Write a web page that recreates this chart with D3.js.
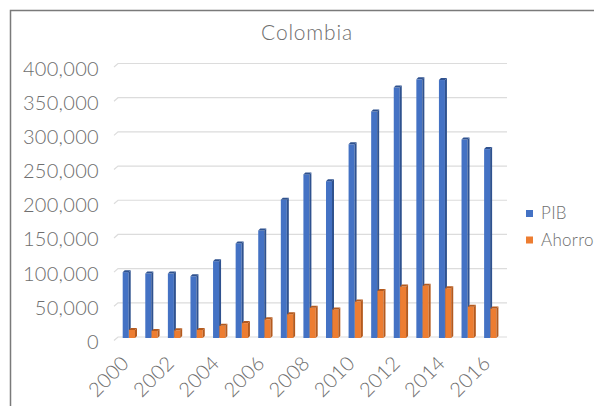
<!DOCTYPE html>
<html><head><meta charset="utf-8">
<script src="https://cdn.jsdelivr.net/npm/d3@7"></script>
<style>html,body{margin:0;padding:0;background:#fff;overflow:hidden}</style>
</head><body>
<svg id="chart" width="594" height="406"></svg>
<script>
const years = ["2000","2001","2002","2003","2004","2005","2006","2007","2008","2009","2010","2011","2012","2013","2014","2015","2016"];
const pib = [97000,95000,95000,91000,113000,139000,158000,203000,240000,230000,284000,332000,367000,379000,378000,291000,277000];
const ahorro = [12500,11000,12000,12500,18500,22500,28000,35500,45000,42500,54000,69500,76000,77000,73500,46500,44000];
const seriesNames = ["PIB","Ahorro"];
const yTicks = [0,50000,100000,150000,200000,250000,300000,350000,400000];
const xLabels = ["2000","2002","2004","2006","2008","2010","2012","2014","2016"];
const colors = {PIB:"#4472C4", Ahorro:"#ED7D31"};
const dark = {PIB:"#2F528F", Ahorro:"#B45A1E"};

const svg = d3.select("#chart");
const font = "Lato, 'Open Sans', sans-serif";

// frame
svg.append("rect").attr("x",10.5).attr("y",10.5).attr("width",620).attr("height",420)
  .attr("fill","#fff").attr("stroke","#7a7a7a").attr("stroke-width",1.5);

const x = d3.scaleBand().domain(years).range([118,502]);
const y = d3.scaleLinear().domain([0,400000]).range([337,63.5]);
const x1 = d3.scaleBand().domain(seriesNames).range([4.7,17.3]);

// grid
const g = svg.append("g");
yTicks.forEach(t=>{
  const yy = y(t);
  g.append("path").attr("d",`M114,${yy+3.5}L118,${yy}L507,${yy}`)
    .attr("fill","none").attr("stroke","#dcdcdc").attr("stroke-width",1.2);
});

// y labels
svg.append("g").selectAll("text").data(yTicks).join("text")
  .attr("x",99).attr("y",d=>y(d)+5).attr("dy","0.35em")
  .attr("text-anchor","end").attr("font-family",font).attr("font-weight",300)
  .attr("font-size",20).attr("letter-spacing",0.3).attr("fill","#6e6e6e")
  .text(d=>d3.format(",")(d));

// x labels
svg.append("g").selectAll("text").data(xLabels).join("text")
  .attr("transform",d=>`translate(${x(d)+x.bandwidth()/2+1},${364.5}) rotate(-45)`)
  .attr("text-anchor","end")
  .attr("font-family",font).attr("font-weight",300).attr("letter-spacing",0.3)
  .attr("font-size",20).attr("fill","#6e6e6e").text(d=>d);

// bars (3D-ish)
const data = [{key:"PIB",vals:pib},{key:"Ahorro",vals:ahorro}];
const bg = svg.append("g");
data.forEach(s=>{
  years.forEach((yr,i)=>{
    const bx = x(yr)+x1(s.key);
    const top = y(s.vals[i])+1.5;
    const bot = 338;
    const w = 6, d = 2;
    bg.append("rect").attr("x",bx).attr("y",top).attr("width",w).attr("height",bot-top)
      .attr("fill",colors[s.key]);
    bg.append("path").attr("d",`M${bx+w},${top}L${bx+w+d},${top-d}L${bx+w+d},${bot-d}L${bx+w},${bot}Z`)
      .attr("fill",dark[s.key]);
    bg.append("path").attr("d",`M${bx},${top}L${bx+d},${top-d}L${bx+w+d},${top-d}L${bx+w},${top}Z`)
      .attr("fill",dark[s.key]);
  });
});

// title
svg.append("text").attr("x",307).attr("y",40).attr("text-anchor","middle")
  .attr("font-family",font).attr("font-weight",300).attr("font-size",21).attr("letter-spacing",0.8)
  .attr("fill","#6e6e6e").text("Colombia");

// legend
const lg = svg.append("g");
seriesNames.forEach((n,i)=>{
  const ly = 213.5 + i*26.5;
  lg.append("rect").attr("x",526).attr("y",ly-3.5).attr("width",7).attr("height",7).attr("fill",colors[n]);
  lg.append("text").attr("x",541).attr("y",ly).attr("dy","0.35em")
    .attr("font-family",font).attr("font-weight",300).attr("font-size",17).attr("letter-spacing",0.3)
    .attr("fill","#6e6e6e").text(n);
});
</script>
</body></html>
